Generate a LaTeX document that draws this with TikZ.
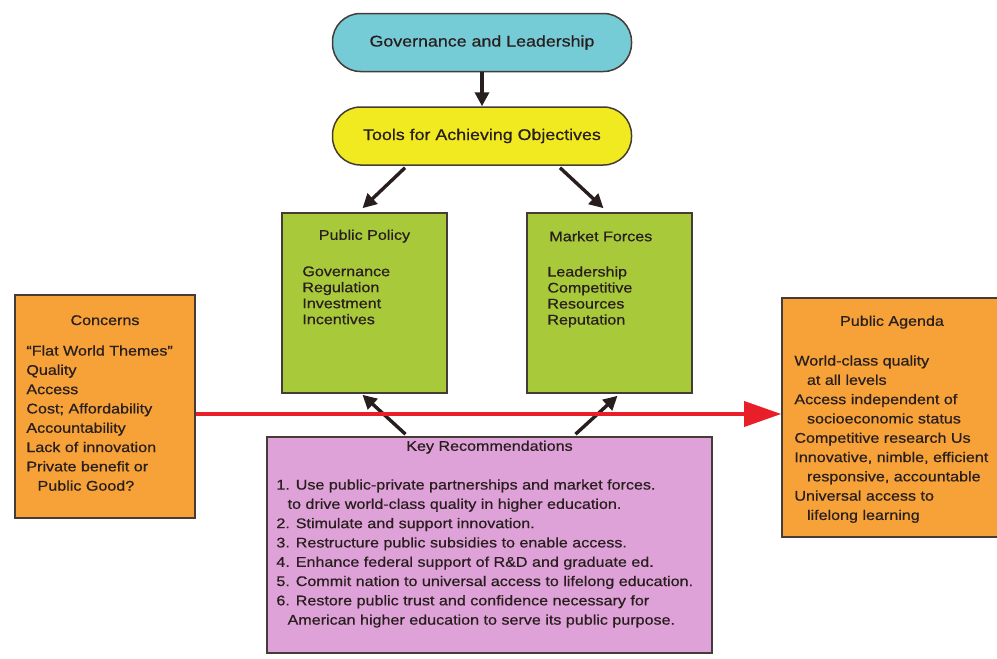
\documentclass[tikz,border=0pt]{standalone}
\usepackage{fontspec}
\setmainfont{Liberation Sans}[FakeStretch=1.15,FakeBold=0.6]
\usetikzlibrary{arrows.meta}
\definecolor{cyanfill}{RGB}{118,204,214}
\definecolor{yellowfill}{RGB}{242,234,32}
\definecolor{greenfill}{RGB}{168,202,58}
\definecolor{orangefill}{RGB}{246,162,56}
\definecolor{pinkfill}{RGB}{223,162,216}
\definecolor{edge}{RGB}{70,60,55}
\definecolor{ink}{RGB}{40,30,30}
\definecolor{redline}{RGB}{232,30,40}
\begin{document}
\begin{tikzpicture}[x=1pt,y=-1pt,
  oval/.style={draw=edge, line width=1.5pt, rounded corners=28pt, minimum width=299pt, minimum height=58pt, inner sep=0pt, font=\fontsize{15.5}{19}\selectfont, text=ink},
  panel/.style={draw=edge, line width=1.6pt, inner sep=0pt},
  ptitle/.style={font=\fontsize{14}{16}\selectfont, text=ink, inner sep=0pt},
  pbody/.style={font=\fontsize{14}{16}\selectfont, text=ink, inner sep=0pt, align=left},
  lbody/.style={font=\fontsize{14}{19.3}\selectfont, text=ink, inner sep=0pt, align=left},
  arr/.style={draw=ink, line width=3.4pt, -{Triangle[length=14pt,width=14pt]}},
]
\useasboundingbox (0,0) rectangle (997,659);
\fill[white] (0,0) rectangle (997,659);

% ovals
\node[oval, fill=cyanfill] (gov) at (482,42.5) {Governance and Leadership};
\node[oval, fill=yellowfill] (tools) at (482,136) {Tools for Achieving Objectives};

% panels
\node[panel, fill=greenfill, minimum width=165pt, minimum height=180pt] (pp) at (364.5,303) {};
\node[panel, fill=greenfill, minimum width=165pt, minimum height=180pt] (mf) at (609.5,303) {};
\node[panel, fill=orangefill, minimum width=180pt, minimum height=223pt] (conc) at (105,406.5) {};
\node[panel, fill=orangefill, minimum width=220pt, minimum height=239pt] (agenda) at (892,417.5) {};
\node[panel, fill=pinkfill, minimum width=445pt, minimum height=216pt] (keyrec) at (489.5,545) {};

% panel texts
\node[ptitle] (pptitle) at ([yshift=-24pt]pp.north) {Public Policy};
\node[pbody, anchor=north west] (ppbody) at ([xshift=21pt,yshift=-54pt]pp.north west)
  {Governance\\Regulation\\Investment\\Incentives};
\node[ptitle, anchor=west] (mftitle) at ([xshift=23pt,yshift=-24pt]mf.north west) {Market Forces};
\node[pbody, anchor=north west] (mfbody) at ([xshift=21pt,yshift=-54pt]mf.north west)
  {Leadership\\Competitive\\Resources\\Reputation};

\node[ptitle] (conctitle) at ([yshift=-26pt]conc.north) {Concerns};
\node[lbody, anchor=north west] (concbody) at ([xshift=12pt,yshift=-51pt]conc.north west)
  {``Flat World Themes''\\Quality\\Access\\Cost; Affordability\\Accountability\\Lack of innovation\\Private benefit or\\\hspace*{0.8em}Public Good?};

\node[ptitle] (agtitle) at ([yshift=-25pt]agenda.north) {Public Agenda};
\node[lbody, anchor=north west] (agbody) at ([xshift=13pt,yshift=-58pt]agenda.north west)
  {World-class quality\\\hspace*{0.9em}at all levels\\Access independent of\\\hspace*{0.9em}socioeconomic status\\Competitive research Us\\Innovative, nimble, efficient\\\hspace*{0.9em}responsive, accountable\\Universal access to\\\hspace*{0.9em}lifelong learning};

\node[ptitle] (krtitle) at ([yshift=-11pt]keyrec.north) {Key Recommendations};
\node[lbody, anchor=north west] (krbody) at ([xshift=10pt,yshift=-43pt]keyrec.north west)
  {1. Use public-private partnerships and market forces.\\\hspace*{0.8em}to drive world-class quality in higher education.\\2. Stimulate and support innovation.\\3. Restructure public subsidies to enable access.\\4. Enhance federal support of R\&D and graduate ed.\\5. Commit nation to universal access to lifelong education.\\6. Restore public trust and confidence necessary for\\\hspace*{0.8em}American higher education to serve its public purpose.};

% connectors
\coordinate (redend) at ([yshift=3.5pt]agenda.west);
\draw[arr] (gov.south) -- (tools.north);
\draw[arr] ([xshift=-77pt,yshift=-2pt]tools.south) -- ([xshift=-2pt,yshift=4pt]pp.north);
\draw[arr] ([xshift=78pt,yshift=-2pt]tools.south) -- ([xshift=-6pt,yshift=4pt]mf.north);
\draw[arr] ([xshift=-84pt,yshift=2pt]keyrec.north) -- ([xshift=-2pt,yshift=-1pt]pp.south);
\draw[arr] ([xshift=86pt,yshift=2pt]keyrec.north) -- ([xshift=8pt,yshift=-2pt]mf.south);
\draw[draw=redline, line width=3.6pt, -{Triangle[length=37pt,width=25pt]}] (conc.east |- redend) -- (redend);
\end{tikzpicture}
\end{document}
